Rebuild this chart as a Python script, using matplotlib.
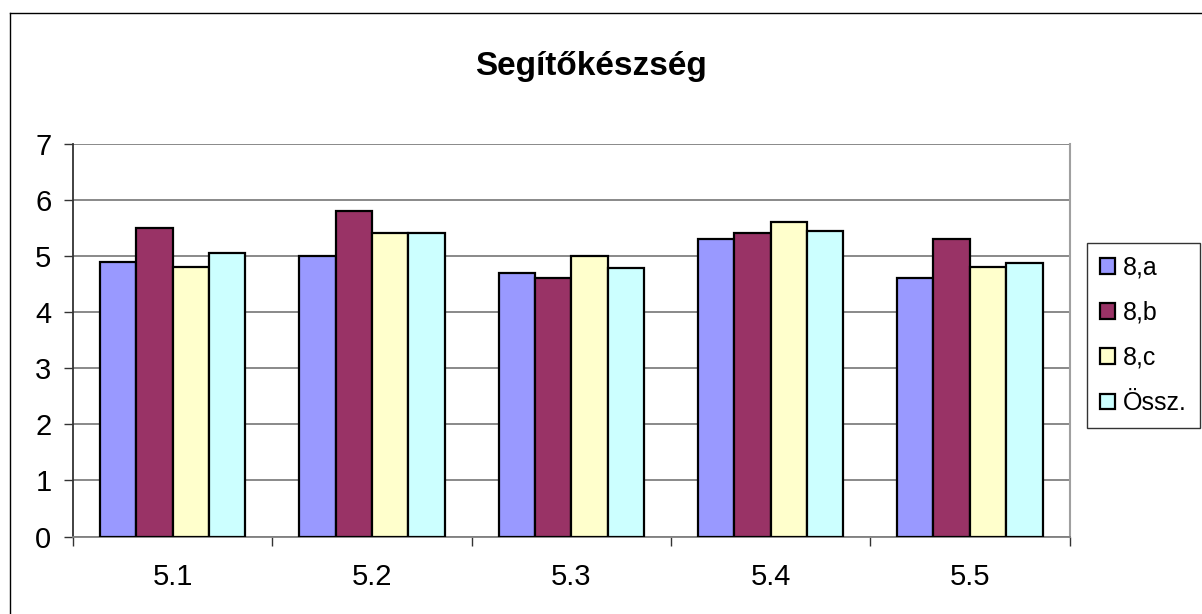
import matplotlib
matplotlib.use("Agg")
import matplotlib.pyplot as plt
import numpy as np
from matplotlib.lines import Line2D

categories = ["5.1", "5.2", "5.3", "5.4", "5.5"]
series_names = ["8,a", "8,b", "8,c", "Össz."]
val_8a = [4.9, 5.0, 4.7, 5.3, 4.6]
val_8b = [5.5, 5.8, 4.6, 5.4, 5.3]
val_8c = [4.8, 5.4, 5.0, 5.6, 4.8]
val_ossz = [5.06, 5.4, 4.78, 5.45, 4.88]
title = "Segítőkészség"
colors = ["#9999FF", "#993366", "#FFFFCC", "#CCFFFF"]

plt.rcParams['font.family'] = ['Liberation Sans', 'DejaVu Sans']

W, H = 1202, 614
fig = plt.figure(figsize=(W / 100, H / 100), dpi=100)
fig.patch.set_facecolor("white")

# outer chart frame (left and top visible)
fig.add_artist(Line2D([10.5 / W, 10.5 / W], [1 - 13 / H, -0.1], transform=fig.transFigure, color="black", lw=1.0))
fig.add_artist(Line2D([10.5 / W, 1.1], [1 - 13 / H, 1 - 13 / H], transform=fig.transFigure, color="black", lw=1.0))

ax_l, ax_r = 73, 1069.5
ax_t, ax_b = 143.7, 536.5
ax = fig.add_axes([ax_l / W, 1 - ax_b / H, (ax_r - ax_l) / W, (ax_b - ax_t) / H])

x = np.arange(len(categories))
all_vals = [val_8a, val_8b, val_8c, val_ossz]
group_w = 0.73
bw = group_w / 4
for i, (vals, name, c) in enumerate(zip(all_vals, series_names, colors)):
    ax.bar(x - group_w / 2 + bw * (i + 0.5), vals, width=bw, color=c, edgecolor="black",
           linewidth=1.6, label=name, zorder=3)

ax.set_xlim(-0.5, len(categories) - 0.5)
ax.set_ylim(0, 7)
ax.set_yticks(range(0, 8))
ax.yaxis.grid(True, color="#808080", lw=1.3, zorder=0)
ax.set_axisbelow(True)

ax.set_xticks(x)
ax.set_xticklabels(categories)
ax.set_xticks(np.arange(-0.5, len(categories)), minor=True)
ax.tick_params(axis="x", which="major", length=0, pad=19, labelsize=21)
ax.tick_params(axis="x", which="minor", length=6.5, width=1.0, color="#333333", direction="out")
ax.tick_params(axis="y", which="major", length=6.5, width=1.0, color="#333333", direction="out", pad=9, labelsize=21)

ax.spines["top"].set_visible(False)
ax.spines["left"].set_color("#333333")
ax.spines["left"].set_linewidth(1.3)
ax.spines["bottom"].set_color("#808080")
ax.spines["bottom"].set_linewidth(1.3)
ax.spines["right"].set_color("#A0A0A0")
ax.spines["right"].set_linewidth(1.5)

fig.text(591 / W, 1 - 66 / H, title, ha="center", va="center", fontsize=24, fontweight="bold")

handles, labels = ax.get_legend_handles_labels()
leg = fig.legend(handles, labels, loc="upper left", bbox_to_anchor=(1087 / W, 1 - 243 / H),
                 bbox_transform=fig.transFigure, fontsize=18, frameon=True, fancybox=False,
                 edgecolor="black", handlelength=0.6, handleheight=0.6, handletextpad=0.35,
                 labelspacing=0.85, borderpad=0.5, borderaxespad=0)
leg.get_frame().set_linewidth(1.0)

fig.savefig("out.png", dpi=100)
